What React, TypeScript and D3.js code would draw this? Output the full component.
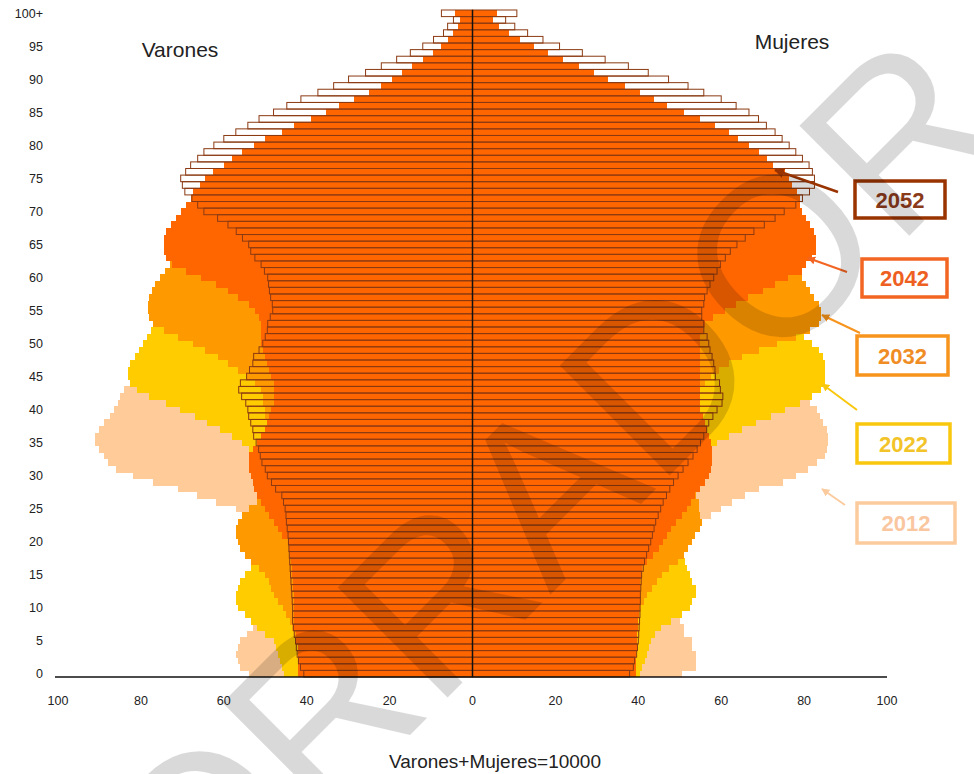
import * as d3 from "d3";

// ages 0..100 (100 = "100+")
const ages = d3.range(0, 101);
const years = ["2012", "2022", "2032", "2042", "2052"];

// Varones (per 10000 total), by single age 0..100
const m2012 = [
  54, 56, 56.5, 57, 56.5, 56, 54.5, 53, 52, 51,
  50, 49, 48, 47.5, 47, 46.5, 46, 46, 46, 46.5,
  47, 48, 50, 52, 54, 57, 62, 66.5, 71, 77,
  82, 86, 88, 89, 90, 91, 91, 90, 89, 87.5,
  86.5, 85.5, 85, 84, 82, 81, 80, 79, 77.5, 76,
  74.5, 73, 71.5, 70, 68, 66.5, 65, 63.5, 62, 60.5,
  59, 57.5, 56, 54.5, 53, 51.5, 50, 48, 46.5, 45,
  43, 42, 41, 40, 39, 38, 37, 35.5, 34, 32,
  30, 28, 26, 24, 22, 20, 17.5, 15, 13, 11,
  9, 7.5, 6, 4.8, 3.8, 3, 2.3, 1.8, 1.4, 1,
  1.5,
];
const m2022 = [
  45.5, 46, 46.5, 47, 47.5, 48, 50, 52, 53.5, 55,
  56.5, 57, 57, 56.5, 56, 55, 53.5, 52, 50, 49,
  48, 47, 46.5, 46, 46, 46, 46.5, 47, 47.5, 48.5,
  49.5, 50.5, 51.5, 53, 54, 55.5, 58, 61, 64, 67,
  70.5, 74, 78, 81, 82.6, 83, 83, 82.6, 81.5, 80.5,
  79.5, 78.5, 77.5, 76, 75, 73.5, 72, 70.5, 69, 67.5,
  66, 64.5, 63, 61.5, 60, 58.5, 57, 55.5, 54, 52.5,
  51, 49, 47, 45, 43, 41, 39, 37, 35, 33,
  31, 29, 27, 25, 23, 21, 19, 17, 15, 13,
  11, 9.5, 8, 6.5, 5.2, 4, 3.2, 2.5, 1.9, 1.4,
  2.5,
];
const m2032 = [
  40, 40.5, 41, 41.5, 42, 42.5, 43, 43.5, 44, 45,
  45.8, 47, 48, 48.5, 49.2, 50, 51.5, 53.5, 55, 56,
  56.6, 57, 57, 56.5, 55.5, 54, 52, 51, 50, 49.5,
  49, 49, 49, 49, 49, 49, 49, 49.5, 49.5, 50,
  50, 50.5, 50.5, 51, 52.5, 54.5, 56.5, 59, 61.5, 64.5,
  67.5, 71, 74.5, 77, 78, 78.3, 78.3, 78, 77.3, 76.5,
  75.5, 74.2, 73, 72, 71, 70, 69, 68, 66.5, 65,
  63, 61, 59, 57, 55, 53, 51, 48.5, 46, 43.5,
  41, 38, 35, 32, 29, 26, 23, 20, 17, 14.5,
  12, 10, 8.2, 6.6, 5.2, 4, 3, 2.3, 1.7, 1.2,
  2,
];
const m2042 = [
  42, 42, 42, 42, 42, 42.5, 42.5, 43, 43, 43,
  43, 43, 43, 43.2, 43.4, 43.5, 43.6, 43.8, 44, 44.2,
  44.6, 46, 47, 48, 49, 50, 51, 52, 52.7, 53,
  53.5, 54, 54, 54, 53, 52, 51, 50, 49.5, 49,
  48.5, 48, 48, 48, 48, 48.5, 49, 49.5, 50, 50.5,
  51, 51, 51, 51, 51.5, 52.5, 54, 56.5, 59, 62,
  65.5, 69, 72.5, 74, 74.5, 74.5, 74.5, 74, 72.8, 71.5,
  70.4, 69.2, 68, 67.5, 65.7, 64.6, 62.7, 60, 58, 55.7,
  52.7, 50, 46, 43, 39, 35.4, 32.3, 28.6, 25, 22,
  19.5, 17, 14.7, 12, 9.6, 7.5, 6, 4.6, 3.4, 2.9,
  4.3,
];
const m2052 = [
  40.7, 41.5, 42, 42.3, 42.5, 42.7, 43, 43.2, 43.4, 43.4,
  43.4, 43.5, 43.6, 43.7, 43.8, 43.9, 44, 44.1, 44.2, 44.3,
  44.4, 44.5, 44.7, 44.9, 45, 45.2, 45.6, 46, 47.5, 48.5,
  49.5, 50, 50.8, 51.2, 51.6, 52.2, 52.8, 53, 53.5, 54,
  54.2, 54.7, 55.7, 56.4, 56, 54.5, 53.8, 53, 52.8, 51.5,
  50.6, 50, 49.5, 49.4, 48.8, 48.2, 48.3, 48.7, 49, 49.2,
  49.4, 50.2, 51, 52.5, 53.5, 54, 55.5, 57, 59, 61.5,
  64.8, 66.3, 67.7, 69.4, 70, 70.4, 69.2, 68, 66.3, 64.8,
  62.4, 60, 57.1, 54.2, 51.5, 48, 44.8, 41.4, 37.3, 33.5,
  29.9, 25.8, 22, 18.3, 15, 12, 9.4, 7, 6, 4.6,
  7.5,
];

// Mujeres (per 10000 total), by single age 0..100
const f2012 = [
  50.5, 54, 54, 54, 53, 53, 51, 51, 50, 49,
  48, 47, 46, 45, 44.5, 44, 44, 44, 44, 44.5,
  45, 46, 48, 52, 57.5, 60, 62.6, 65.8, 69, 75,
  78, 81, 83, 85, 85.5, 85.7, 85.7, 85.5, 84.5, 83.8,
  83, 81.5, 80.5, 79.5, 78.5, 77.5, 76.5, 75.5, 74.5, 73.5,
  72, 70.5, 69, 67.5, 66, 65, 64, 63, 62, 61,
  60, 59, 58, 57, 56, 55, 53.5, 52, 51, 50,
  48.5, 48, 47.5, 47, 46.5, 46, 45, 44, 43, 42,
  40.5, 39, 37, 35, 33, 30.5, 28, 25.5, 23, 20,
  17, 14.5, 12, 10, 8, 6.3, 5, 3.8, 2.9, 2.1,
  4,
];
const f2022 = [
  40.5, 41, 41.5, 42, 42.5, 43, 44, 45.5, 48, 50.5,
  52.5, 53, 54, 54, 53, 52.5, 51.7, 51.3, 50.5, 49.5,
  48.5, 47.5, 47, 46.5, 46.5, 46.5, 47, 47.5, 48.5, 49.5,
  50.5, 52, 53.5, 55, 56.5, 59, 62, 65, 68.5, 72,
  75.5, 79, 82, 84, 85, 85, 85, 85, 84.5, 83.5,
  82, 80, 78.5, 77, 76, 75, 74, 73, 72, 71,
  70, 69, 68, 67, 66, 65, 64, 63, 62, 61,
  60, 58.5, 57, 55.5, 54, 52, 50, 48, 46, 44,
  42, 40, 37.5, 35, 32.5, 30, 27.5, 25, 22, 19,
  16.5, 14, 11.5, 9.5, 7.5, 6, 4.6, 3.5, 2.6, 1.9,
  3.5,
];
const f2032 = [
  37, 37.5, 38, 38.3, 38.6, 38.9, 39.2, 39.5, 39.8, 40.2,
  40.7, 41.3, 42, 43.2, 44.4, 45.6, 47.5, 49.5, 51, 52,
  53, 53.7, 55, 55.3, 55, 54.6, 54.6, 54, 53, 52.5,
  52, 52, 52, 52, 52, 52, 52, 52, 52, 52.5,
  53, 53.5, 54, 55, 56, 57.5, 59.5, 62, 65, 69,
  73.5, 78, 81.5, 83.5, 84, 84, 83.5, 82.5, 81.5, 80.5,
  79.6, 78.5, 77, 76, 75, 74, 73, 72, 71, 70,
  68.5, 67, 65.5, 64, 62, 60, 58, 56, 54, 51.5,
  49, 46, 43, 40, 37, 34, 31, 28, 24.5, 21,
  18, 15, 12.5, 10, 8, 6.2, 4.7, 3.5, 2.6, 1.9,
  3,
];
const f2042 = [
  39.5, 39.5, 39.5, 39.5, 39.6, 39.7, 39.8, 39.9, 40, 40.1,
  40.2, 40.3, 40.3, 40.4, 40.5, 40.6, 41, 42, 43.5, 45,
  46, 47, 48, 49.2, 50.5, 51.7, 52.8, 53.7, 55, 56,
  57, 57.6, 57.8, 57.8, 57.8, 57.5, 57, 56.5, 56, 55.5,
  55, 55, 55, 55, 55, 55, 55, 55, 55, 55,
  55, 55, 55.5, 56, 58, 61, 63.5, 66.5, 70, 73,
  76, 79.5, 80.5, 82, 82.8, 82.8, 82.8, 82.5, 81.5, 80.5,
  79.6, 79, 79, 78.4, 77, 76.4, 75.5, 72.6, 71, 69,
  66.7, 64, 62, 58.5, 55, 51, 47, 43.7, 40.3, 36.7,
  32.8, 29.4, 25.7, 21.8, 18.2, 14.8, 11.4, 8.7, 6.5, 5,
  6,
];
const f2052 = [
  37.9, 38.8, 39.1, 39.6, 39.8, 40, 40.1, 40.2, 40.3, 40.4,
  40.4, 40.5, 40.5, 40.6, 40.7, 40.8, 41.2, 41.5, 42, 42.5,
  43, 43.4, 43.8, 44.2, 44.8, 45.4, 46, 46.8, 47.6, 48.5,
  49.6, 50.8, 52, 53.2, 54.2, 55, 55.8, 56.5, 57, 58,
  59, 60.2, 60.4, 59.8, 59.6, 58.6, 58.5, 58.2, 57.8, 57.3,
  57, 56.6, 55.8, 55.8, 55.3, 55.3, 55.8, 56, 56.6, 57.3,
  58.2, 59, 59.8, 61, 62.2, 63.8, 65.8, 67.9, 70.4, 73,
  75.2, 78, 79.6, 81.3, 82.5, 82.5, 82, 81.2, 79.6, 78,
  76.4, 74.7, 73, 70.9, 69, 66.7, 63.6, 60, 55.8, 52,
  47.3, 42.4, 37.6, 32, 26.5, 21, 17, 13.3, 10.2, 8,
  10.7,
];

const maleByYear = [m2012, m2022, m2032, m2042, m2052];
const femaleByYear = [f2012, f2022, f2032, f2042, f2052];

// styles
const FILLS = ["#FFCC99", "#FFCC00", "#FF9900", "#FF6600", "none"];
const OUTLINE_2052 = "#8B3A12";
const LEGEND_COLORS = ["#FBCB9E", "#F9C80E", "#F7941D", "#F26522", "#993300"];
const LEGEND_TEXT = ["#F9C6A0", "#F2C42A", "#F08C24", "#EE5F22", "#8B3A1A"];
// legend box [x, y, w, h] and pointer line [x1, y1, x2, y2]
const LEGEND_BOX = [
  [857, 503, 98, 40],
  [857, 424, 93, 39],
  [857, 336, 91, 39],
  [862, 259, 85, 38],
  [855, 181, 90, 37],
];
const LEGEND_LINE = [
  [845, 505, 822, 489],
  [857, 410, 822, 384],
  [860, 333, 822, 315],
  [847, 272, 808, 258],
  [838, 192, 775, 170],
];

const FONT = "'Liberation Sans', Arial, sans-serif";
const W = 974;
const H = 774;
const PLOT_TOP = 10;
const PLOT_BOTTOM = 677;

export default function App() {
  const xScale = d3.scaleLinear().domain([-100, 100]).range([58, 887]);
  const yScale = d3
    .scaleBand<number>()
    .domain([...ages].reverse())
    .range([PLOT_TOP, PLOT_BOTTOM])
    .padding(0);
  const bh = yScale.bandwidth();
  const x0 = xScale(0);

  const layers = years.map((year, i) => {
    const isOutline = i === years.length - 1;
    const rects = ages.map((a) => {
      const y = yScale(a) as number;
      const vm = maleByYear[i][a];
      const vf = femaleByYear[i][a];
      const xm = xScale(-vm);
      const xf = xScale(vf);
      if (isOutline) {
        return (
          <g key={a}>
            <rect x={xm} y={y} width={x0 - xm} height={bh} fill="none" stroke={OUTLINE_2052} strokeWidth={1} />
            <rect x={x0} y={y} width={xf - x0} height={bh} fill="none" stroke={OUTLINE_2052} strokeWidth={1} />
          </g>
        );
      }
      return (
        <g key={a}>
          <rect x={xm} y={y} width={x0 - xm} height={bh + 0.4} fill={FILLS[i]} />
          <rect x={x0} y={y} width={xf - x0} height={bh + 0.4} fill={FILLS[i]} />
        </g>
      );
    });
    return (
      <g key={year} shapeRendering={isOutline ? "auto" : "crispEdges"}>
        {rects}
      </g>
    );
  });

  const xTicks = xScale.ticks(10);
  const yTicks = ages.filter((a) => a % 5 === 0);

  return (
    <div style={{ position: "absolute", left: 0, top: 0, background: "#fff" }}>
      <svg width={W} height={H} style={{ display: "block" }}>
        <defs>
          {LEGEND_COLORS.map((c, i) => (
            <marker
              key={i}
              id={`arrow${i}`}
              viewBox="0 0 10 10"
              refX={9}
              refY={5}
              markerWidth={4}
              markerHeight={4}
              orient="auto"
            >
              <path d="M0,0 L10,5 L0,10 z" fill={c} />
            </marker>
          ))}
        </defs>
        <rect width={W} height={H} fill="#fff" />

        {layers}

        {/* centre line and base axis */}
        <line x1={x0} x2={x0} y1={PLOT_TOP} y2={PLOT_BOTTOM} stroke="#111" strokeWidth={1.5} />
        <line x1={55} x2={887} y1={PLOT_BOTTOM} y2={PLOT_BOTTOM} stroke="#111" strokeWidth={1.5} />

        {/* y tick labels */}
        {yTicks.map((a) => (
          <text
            key={a}
            x={43}
            y={(yScale(a) as number) + bh / 2 + 4.5}
            textAnchor="end"
            fontFamily={FONT}
            fontSize={12.5}
            fill="#222"
          >
            {a === 100 ? "100+" : a}
          </text>
        ))}

        {/* x tick labels */}
        {xTicks.map((t) => (
          <text
            key={t}
            x={xScale(t)}
            y={705}
            textAnchor="middle"
            fontFamily={FONT}
            fontSize={12.5}
            fill="#222"
          >
            {Math.abs(t)}
          </text>
        ))}

        <text x={180} y={57} textAnchor="middle" fontFamily={FONT} fontSize={21} fill="#222">
          Varones
        </text>
        <text x={792} y={49} textAnchor="middle" fontFamily={FONT} fontSize={21} fill="#222">
          Mujeres
        </text>
        <text x={495} y={768} textAnchor="middle" fontFamily={FONT} fontSize={19} fill="#222">
          Varones+Mujeres=10000
        </text>

        {/* legend */}
        {years.map((year, i) => {
          const [bx, by, bw, bhh] = LEGEND_BOX[i];
          const [lx1, ly1, lx2, ly2] = LEGEND_LINE[i];
          return (
            <g key={year}>
              <line
                x1={lx1}
                y1={ly1}
                x2={lx2}
                y2={ly2}
                stroke={LEGEND_COLORS[i]}
                strokeWidth={i === 4 ? 2.5 : 2}
                markerEnd={`url(#arrow${i})`}
              />
              <rect x={bx} y={by} width={bw} height={bhh} fill="#fff" stroke={LEGEND_COLORS[i]} strokeWidth={3.5} />
              <text
                x={bx + bw / 2}
                y={by + bhh / 2 + 8}
                textAnchor="middle"
                fontFamily={FONT}
                fontWeight="bold"
                fontSize={22}
                fill={LEGEND_TEXT[i]}
              >
                {year}
              </text>
            </g>
          );
        })}

        {/* watermark */}
        <text
          transform="translate(550,595) rotate(-45)"
          textAnchor="middle"
          fontFamily={FONT}
          fontSize={226}
          fill="#000"
          fillOpacity={0.15}
          style={{ pointerEvents: "none" }}
        >
          BORRADOR
        </text>
      </svg>
    </div>
  );
}
